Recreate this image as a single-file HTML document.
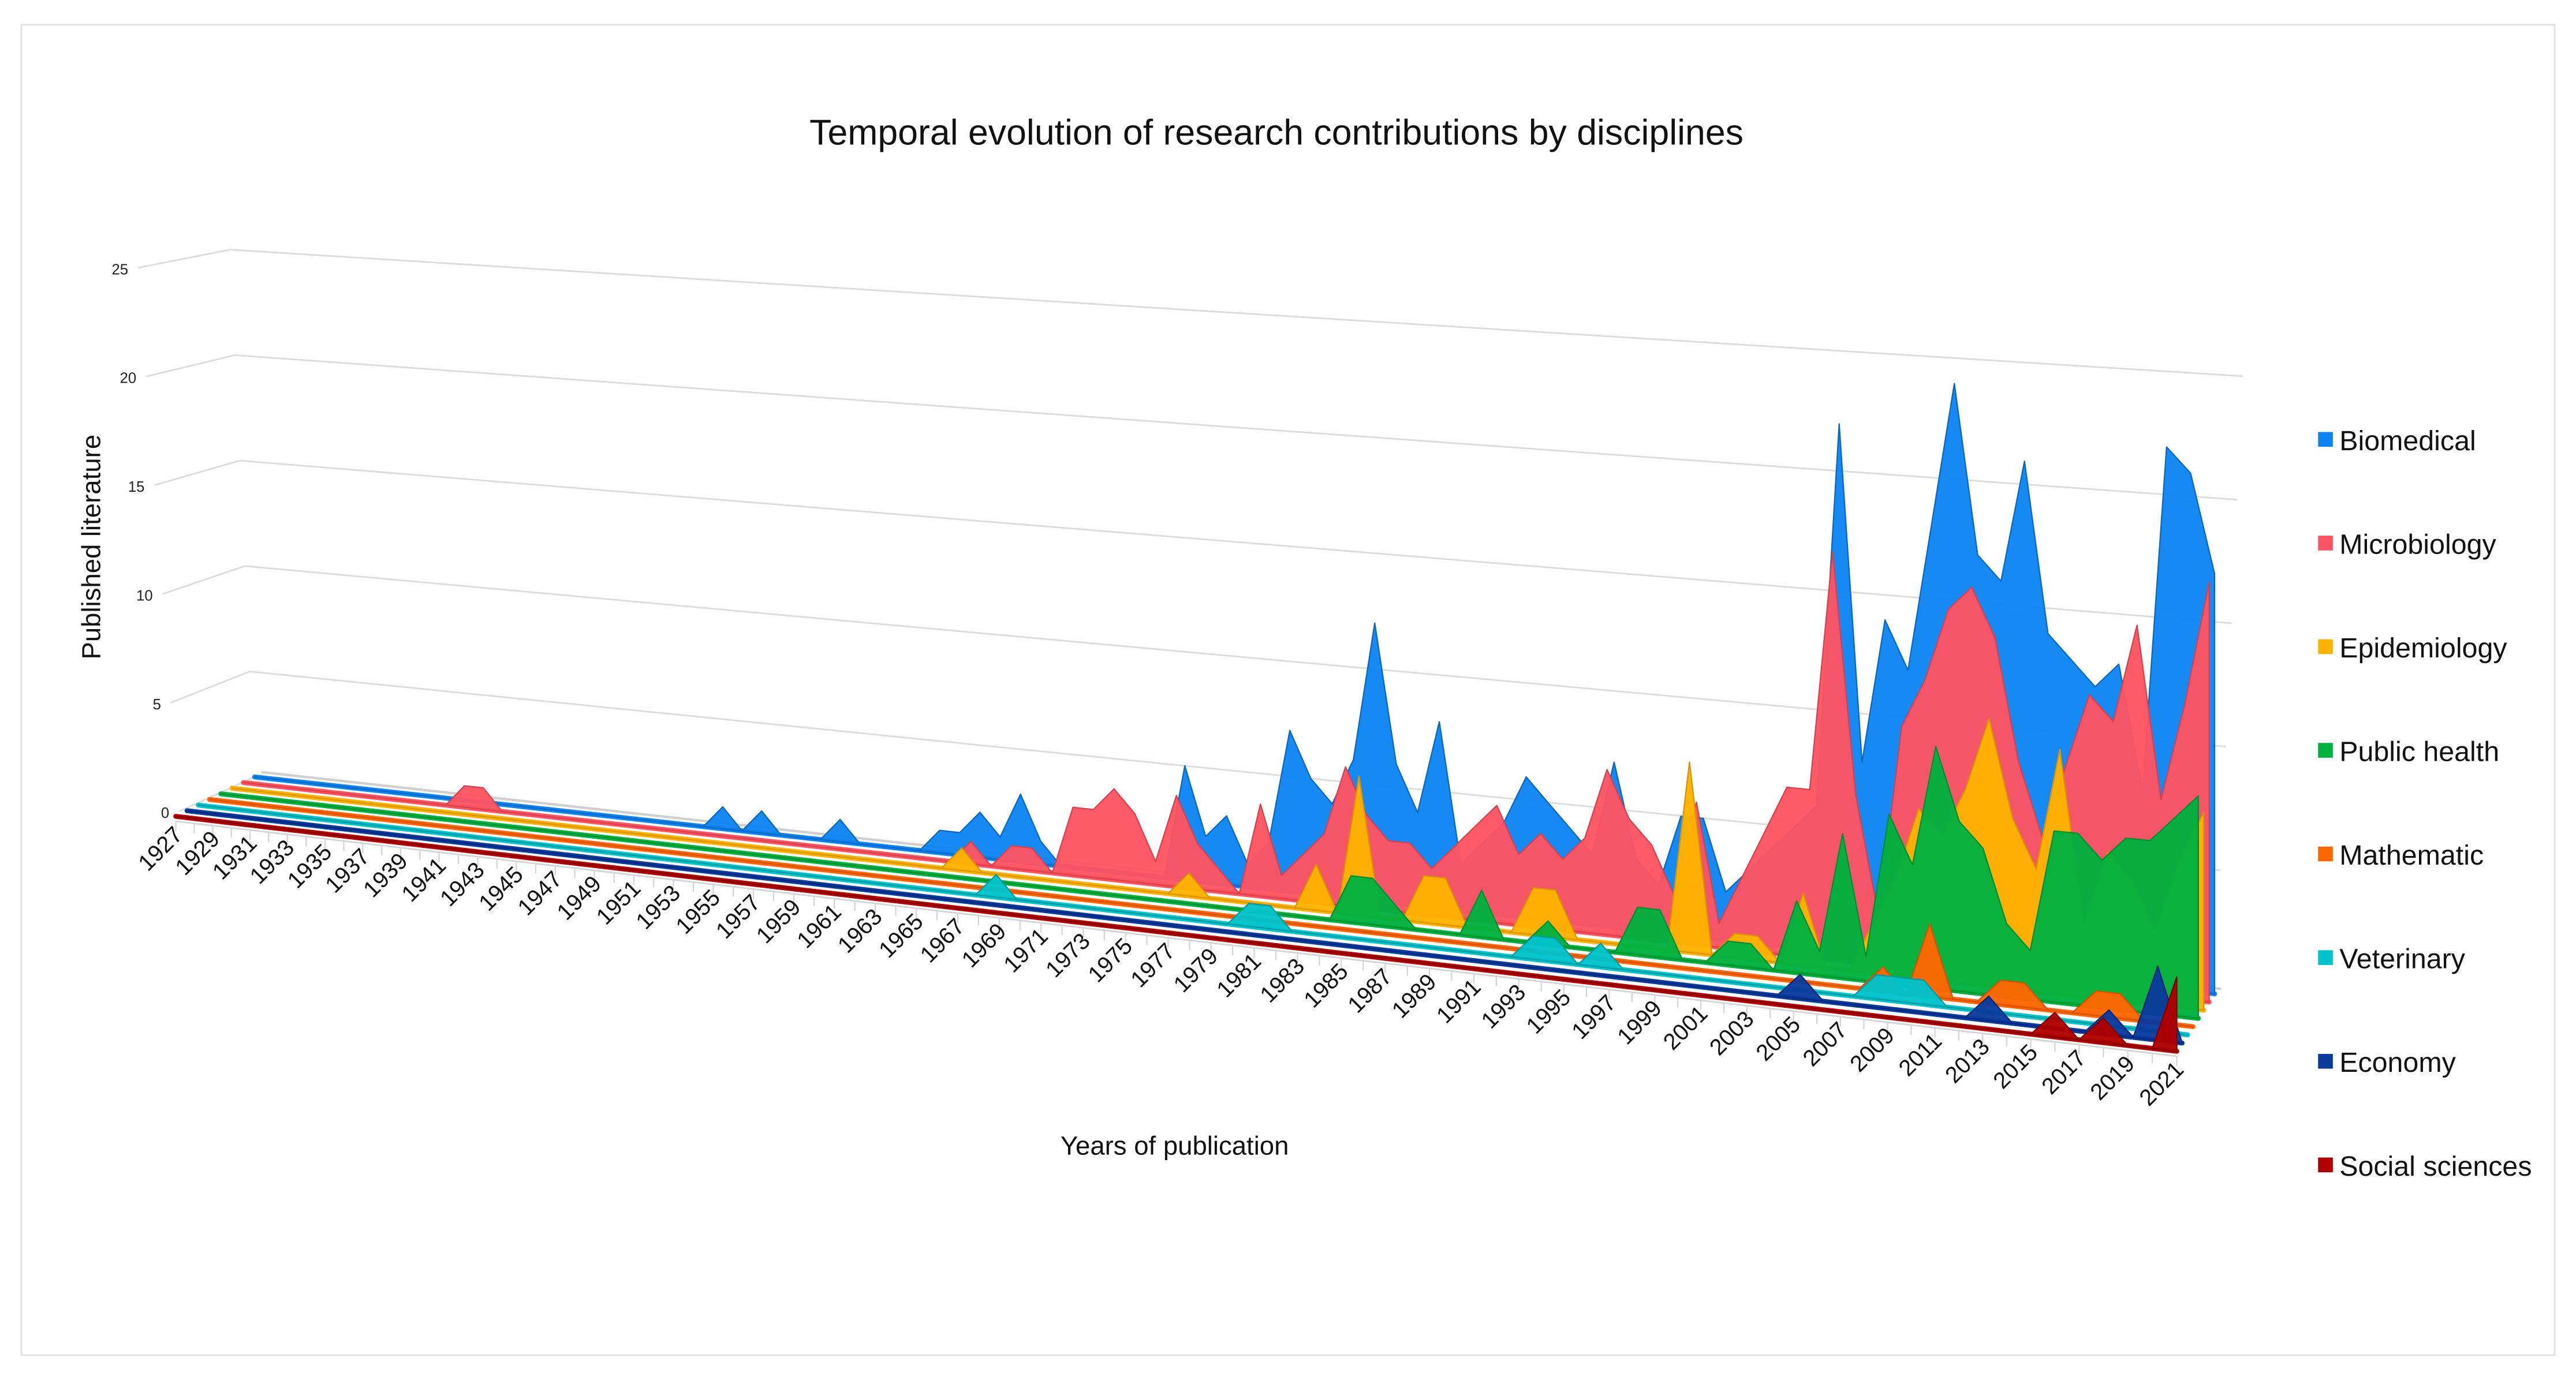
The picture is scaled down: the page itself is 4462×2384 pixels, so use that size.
<!DOCTYPE html>
<html><head><meta charset="utf-8"><style>
html,body{margin:0;padding:0;background:#fff;}
svg{display:block;}
text{font-family:"Liberation Sans",Arial,sans-serif;}
</style></head><body>
<svg id="chart" width="4462" height="2384" viewBox="0 0 1568 837.7" preserveAspectRatio="none" xmlns="http://www.w3.org/2000/svg">
<rect x="13" y="15" width="1542" height="810" fill="#fff" stroke="#e2e2e2" stroke-width="1"/>
<text x="777" y="88" font-size="22" text-anchor="middle" fill="#111">Temporal evolution of research contributions by disciplines</text>
<text transform="translate(61,333) rotate(-90)" font-size="16" text-anchor="middle" fill="#111">Published literature</text>
<text x="715" y="703" font-size="16" text-anchor="middle" fill="#111">Years of publication</text>
<g id="grid"></g>
<g id="floor"></g>
<g id="series"></g>
<g id="xlabels"></g>
<g id="legend"></g>
</svg>
<script>
const years = [];
for (let y = 1927; y <= 2021; y++) years.push(y);
const seriesNames = ["Biomedical","Microbiology","Epidemiology","Public health","Mathematic","Veterinary","Economy","Social sciences"];
const yTicks = [0,5,10,15,20,25];
const biomedical = [
0,0,0,0,0,0,0,0,0,0, 0,0,0,0,0,0,0,0,0,0, 0,0,0,0,0,1,0,1,0,0,
0,1,0,0,0,0,1,1,2,1, 3,1,0,0,0,0,0,0,5,2, 3,1,2,7,5,4,6,12,6,4,
8,2,3,4,6,5,4,3,7,3, 2,5,5,2,3,4,5,6,22,8, 14,12,18,24,17,16,21,14,13,12,
13,8,22,21,17];
const microbiology = [
0,0,0,0,0,0,0,0,0,0, 0,0,1,1,0,0,0,0,0,0, 0,0,0,0,0,0,0,0,0,0,
0,0,0,0,0,0,0,0,1,0, 1,1,0,3,3,4,3,1,4,2, 1,0,4,1,2,3,6,4,3,3,
2,3,4,5,3,4,3,4,7,5, 4,2,6,1,3,5,7,7,17,7, 2,10,12,15,16,14,9,6,9,12,
11,15,8,12,17];
const epidemiology = [
0,0,0,0,0,0,0,0,0,0, 0,0,0,0,0,0,0,0,0,0, 0,0,0,0,0,0,0,0,0,0,
0,0,0,0,0,0,0,0,1,0, 0,0,0,0,0,0,0,0,0,1, 0,0,0,0,0,2,0,6,0,0,
2,2,0,0,0,2,2,0,0,0, 0,0,8,0,1,1,0,3,0,0, 2,4,7,6,8,11,7,5,10,3,
6,5,3,6,8];
const publicHealth = [
0,0,0,0,0,0,0,0,0,0, 0,0,0,0,0,0,0,0,0,0, 0,0,0,0,0,0,0,0,0,0,
0,0,0,0,0,0,0,0,0,0, 0,0,0,0,0,0,0,0,0,0, 0,0,0,0,0,0,0,2,2,1,
0,0,0,2,0,0,1,0,0,0, 2,2,0,0,1,1,0,3,1,6, 1,7,5,10,7,6,3,2,7,7,
6,7,7,8,9];
const mathematic = [
0,0,0,0,0,0,0,0,0,0, 0,0,0,0,0,0,0,0,0,0, 0,0,0,0,0,0,0,0,0,0,
0,0,0,0,0,0,0,0,0,0, 0,0,0,0,0,0,0,0,0,0, 0,0,0,0,0,0,0,0,0,0,
0,0,0,0,0,0,0,0,0,0, 0,0,0,0,0,0,0,0,0,0, 0,1,0,3,0,0,1,1,0,0,
1,1,0,0,0];
const veterinary = [
0,0,0,0,0,0,0,0,0,0, 0,0,0,0,0,0,0,0,0,0, 0,0,0,0,0,0,0,0,0,0,
0,0,0,0,0,0,0,0,0,0, 0,1,0,0,0,0,0,0,0,0, 0,0,0,1,1,0,0,0,0,0,
0,0,0,0,0,0,1,1,0,1, 0,0,0,0,0,0,0,0,0,0, 0,1,1,1,0,0,0,0,0,0,
0,0,0,0,0];
const economy = [
0,0,0,0,0,0,0,0,0,0, 0,0,0,0,0,0,0,0,0,0, 0,0,0,0,0,0,0,0,0,0,
0,0,0,0,0,0,0,0,0,0, 0,0,0,0,0,0,0,0,0,0, 0,0,0,0,0,0,0,0,0,0,
0,0,0,0,0,0,0,0,0,0, 0,0,0,0,0,0,0,0,1,0, 0,0,0,0,0,0,1,0,0,0,
0,1,0,3,0];
const socialSciences = [
0,0,0,0,0,0,0,0,0,0, 0,0,0,0,0,0,0,0,0,0, 0,0,0,0,0,0,0,0,0,0,
0,0,0,0,0,0,0,0,0,0, 0,0,0,0,0,0,0,0,0,0, 0,0,0,0,0,0,0,0,0,0,
0,0,0,0,0,0,0,0,0,0, 0,0,0,0,0,0,0,0,0,0, 0,0,0,0,0,0,0,0,0,1,
0,1,0,0,3];

const seriesData = [biomedical, microbiology, epidemiology, publicHealth, mathematic, veterinary, economy, socialSciences];
const colors = ["#0d84f2","#fe5462","#ffb200","#00b13e","#ff6600","#00c3cb","#0a3a9c","#b00000"];
const edgeColors = ["#0a68c0","#d8404e","#d99500","#008f32","#d45200","#009aa0","#06287a","#800000"];
const SVGNS = "http://www.w3.org/2000/svg";
const NY = years.length;
const A0=[155,473], A1=[1348,605], B0=[107,497], B1=[1325,640];
function lerpV(a,b,t){return a+(b-a)*t;}
function persp(t){ return t/(1+0.155*(1-t)); }
function basePt(k,i){
  const t = persp(i/(NY-1)), d = k/7;
  const bx = lerpV(A0[0],A1[0],t), by = lerpV(A0[1],A1[1],t);
  const fx = lerpV(B0[0],B1[0],t), fy = lerpV(B0[1],B1[1],t);
  return [lerpV(bx,fx,d), lerpV(by,fy,d)];
}
function vScale(i){ return 12.84 + 2.2*persp(i/(NY-1)); }
function topPt(k,i,v){ const b=basePt(k,i); return [b[0], b[1]-v*vScale(i)]; }
function mk(tag, attrs, parent){
  const el = document.createElementNS(SVGNS, tag);
  for (const a in attrs) el.setAttribute(a, attrs[a]);
  parent.appendChild(el);
  return el;
}
const gridG = document.getElementById('grid');
yTicks.forEach(v => {
  const f = v/25;
  const x1 = 155 - 15*f, y1 = 473 - 12.84*v;
  const x2 = 1348 + 17*f, y2 = 605 - 15.04*v;
  const lx = x1 - 60 - 10*f, ly = y1 + 25 - 10*f;
  const gl = mk('line',{x1:x1,y1:y1,x2:x2,y2:y2,stroke:'#dcdcdc','stroke-width':1},gridG);
  
  
  const wl = mk('line',{x1:lx+14,y1:ly-4,x2:x1,y2:y1,stroke:'#dcdcdc','stroke-width':1},gridG);
  
  
  const tl = mk('text',{x:lx+8,y:ly,'font-size':9,'text-anchor':'end',fill:'#222'},gridG);
  tl.textContent = v;
  
  
});
const floorG = document.getElementById('floor');
const bk0 = basePt(0,0), bk1 = basePt(0,NY-1);
const backEdge = mk('line',{x1:bk0[0]+4,y1:bk0[1]-3,x2:bk1[0]+4,y2:bk1[1]-3,stroke:'#cfcfcf','stroke-width':1.5},floorG);


const fr0 = basePt(7,0), fr1 = basePt(7,NY-1);
const frontEdge = mk('line',{x1:fr0[0],y1:fr0[1]+3,x2:fr1[0],y2:fr1[1]+3,stroke:'#d5d5d5','stroke-width':1},floorG);


for (let i=0;i<NY;i++){
  const p = basePt(7,i);
  const tk = mk('line',{x1:p[0],y1:p[1]+3,x2:p[0],y2:p[1]+9,stroke:'#d5d5d5','stroke-width':0.8},floorG);
  
  
}
const seriesG = document.getElementById('series');
seriesData.forEach((vals,k) => {
  const g = mk('g',{},seriesG);
  
  
  const s0 = basePt(k,0), s1 = basePt(k,NY-1);
  const stripe = mk('line',{x1:s0[0],y1:s0[1],x2:s1[0],y2:s1[1],stroke:colors[k],'stroke-width':3,'stroke-linecap':'round'},g);
  
  
  const pts = [s0];
  for (let i=0;i<NY;i++) pts.push(topPt(k,i,vals[i]));
  pts.push(s1);
  const area = mk('polygon',{points:pts.map(p=>p[0].toFixed(1)+','+p[1].toFixed(1)).join(' '),fill:colors[k],stroke:edgeColors[k],'stroke-width':0.8,'stroke-linejoin':'round','fill-opacity':0.96},g);
  
  
});
const xlG = document.getElementById('xlabels');
for (let i=0;i<NY;i+=2){
  const p = basePt(7,i);
  const x = p[0]+5, y = p[1]+12;
  const t = mk('text',{x:x,y:y,'font-size':14,'text-anchor':'end',fill:'#111',transform:'rotate(-45 '+x+' '+y+')'},xlG);
  t.textContent = years[i];
  
  
}
const legendG = document.getElementById('legend');
seriesNames.forEach((n,k) => {
  const y = 268 + k*63.1;
  const g = mk('g',{},legendG);
  
  
  const r = mk('rect',{x:1411,y:y-5,width:9,height:9,fill:colors[k]},g);
  
  
  const t = mk('text',{x:1424,y:y+6,'font-size':17,fill:'#111'},g);
  t.textContent = n;
  
  
});
</script>
</body></html>
